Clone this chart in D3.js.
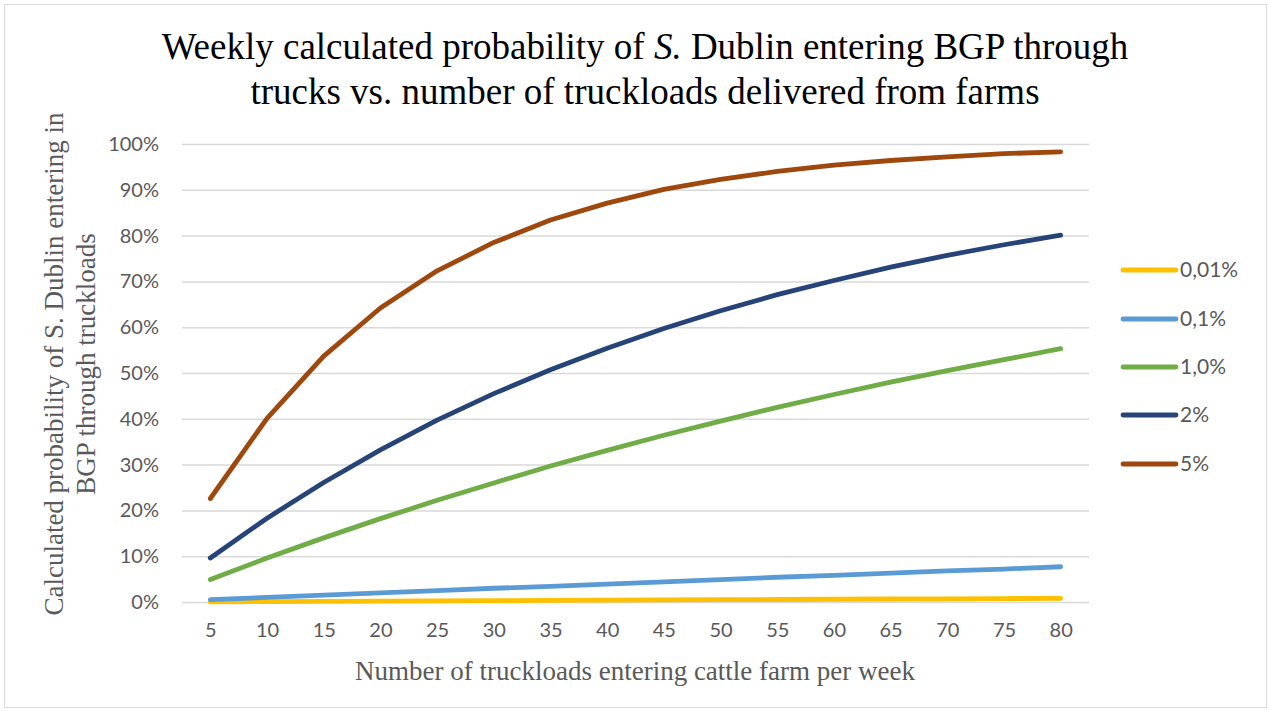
<!DOCTYPE html>
<html><head><meta charset="utf-8">
<script src="https://cdn.jsdelivr.net/npm/d3@7"></script>
<style>html,body{margin:0;padding:0;background:#fff;}svg{display:block;}</style>
</head><body>
<svg id="chart" width="1269" height="711"></svg>
<script>
const categories = [5,10,15,20,25,30,35,40,45,50,55,60,65,70,75,80];
const seriesNames = ["0,01%","0,1%","1,0%","2%","5%"];
const seriesColors = ["#FFC000","#5B9BD5","#70AD47","#264478","#9E480E"];
const s001 = [0.05,0.1,0.15,0.2,0.25,0.3,0.35,0.4,0.45,0.5,0.55,0.6,0.65,0.7,0.75,0.8];
const s01 = [0.5,1.0,1.5,2.0,2.5,3.0,3.4,3.9,4.4,4.9,5.4,5.8,6.3,6.8,7.2,7.7];
const s1 = [4.9,9.6,14.0,18.2,22.2,26.0,29.7,33.1,36.4,39.5,42.5,45.3,48.0,50.5,52.9,55.3];
const s2 = [9.6,18.3,26.1,33.2,39.7,45.5,50.7,55.4,59.7,63.6,67.1,70.2,73.1,75.7,78.0,80.1];
const s5 = [22.6,40.1,53.7,64.2,72.3,78.5,83.4,87.1,90.1,92.3,94.0,95.4,96.4,97.2,97.9,98.3];
const yTicks = [0,10,20,30,40,50,60,70,80,90,100];
const allSeries = [s001,s01,s1,s2,s5];

const svg = d3.select("#chart");
svg.append("rect").attr("x",4.5).attr("y",4.5).attr("width",1262).attr("height",703)
  .attr("fill","#fff").attr("stroke","#d9d9d9").attr("stroke-width",1);

const x = d3.scalePoint().domain(categories).range([182,1089]).padding(0.5);
const y = d3.scaleLinear().domain([0,100]).range([602,144]);

const sans = "Lato, 'Open Sans', sans-serif";
const serif = "'Liberation Serif','Times New Roman',serif";

// gridlines
svg.append("g").selectAll("line").data(yTicks).join("line")
  .attr("x1",182).attr("x2",1089).attr("y1",d=>y(d)+0.5).attr("y2",d=>y(d)+0.5)
  .attr("stroke","#d9d9d9").attr("stroke-width",1.5);

// y axis labels
const yAxis = d3.axisLeft(y).tickValues(yTicks).tickFormat(d=>d+"%").tickSize(0).tickPadding(0);
const gy = svg.append("g").attr("transform","translate(159,0)").call(yAxis);
gy.select(".domain").remove();
gy.selectAll("text").attr("font-family",sans).attr("font-size",20).attr("fill","#595959");

// x axis labels
const xAxis = d3.axisBottom(x).tickSize(0).tickPadding(0);
const gx = svg.append("g").attr("transform","translate(0,623)").call(xAxis);
gx.select(".domain").remove();
gx.selectAll("text").attr("font-family",sans).attr("font-size",20).attr("fill","#595959");

// lines
const line = d3.line().x((d,i)=>x(categories[i])).y(d=>y(d));
allSeries.forEach((s,k)=>{
  svg.append("path").datum(s).attr("d",line).attr("fill","none")
    .attr("stroke",seriesColors[k]).attr("stroke-width",4.8)
    .attr("stroke-linecap","round").attr("stroke-linejoin","round");
});

// legend
const legY = [270,319,367,415,464];
seriesNames.forEach((n,k)=>{
  svg.append("line").attr("x1",1123).attr("x2",1176).attr("y1",legY[k]).attr("y2",legY[k])
    .attr("stroke",seriesColors[k]).attr("stroke-width",4.8).attr("stroke-linecap","round");
  svg.append("text").attr("x",1180).attr("y",legY[k]).attr("dy","0.35em")
    .attr("font-family",sans).attr("font-size",21).attr("fill","#595959").text(n);
});

// title
const title = svg.append("text").attr("text-anchor","middle")
  .attr("font-family",serif).attr("font-size",37).attr("fill","#000");
const t1 = title.append("tspan").attr("x",645).attr("y",59);
t1.append("tspan").text("Weekly calculated probability of ");
t1.append("tspan").attr("font-style","italic").text("S.");
t1.append("tspan").text(" Dublin entering BGP through");
title.append("tspan").attr("x",645).attr("y",104).text("trucks vs. number of truckloads delivered from farms");

// y axis title
const yt = svg.append("text").attr("transform","translate(0,364) rotate(-90)").attr("text-anchor","middle")
  .attr("font-family",serif).attr("font-size",27).attr("fill","#595959");
yt.append("tspan").attr("x",0).attr("y",63).text("Calculated probability of S. Dublin entering in");
yt.append("tspan").attr("x",0).attr("y",95).text("BGP through truckloads");

// x axis title
svg.append("text").attr("x",635).attr("y",680).attr("text-anchor","middle")
  .attr("font-family",serif).attr("font-size",27).attr("fill","#595959")
  .text("Number of truckloads entering cattle farm per week");
</script>
</body></html>
